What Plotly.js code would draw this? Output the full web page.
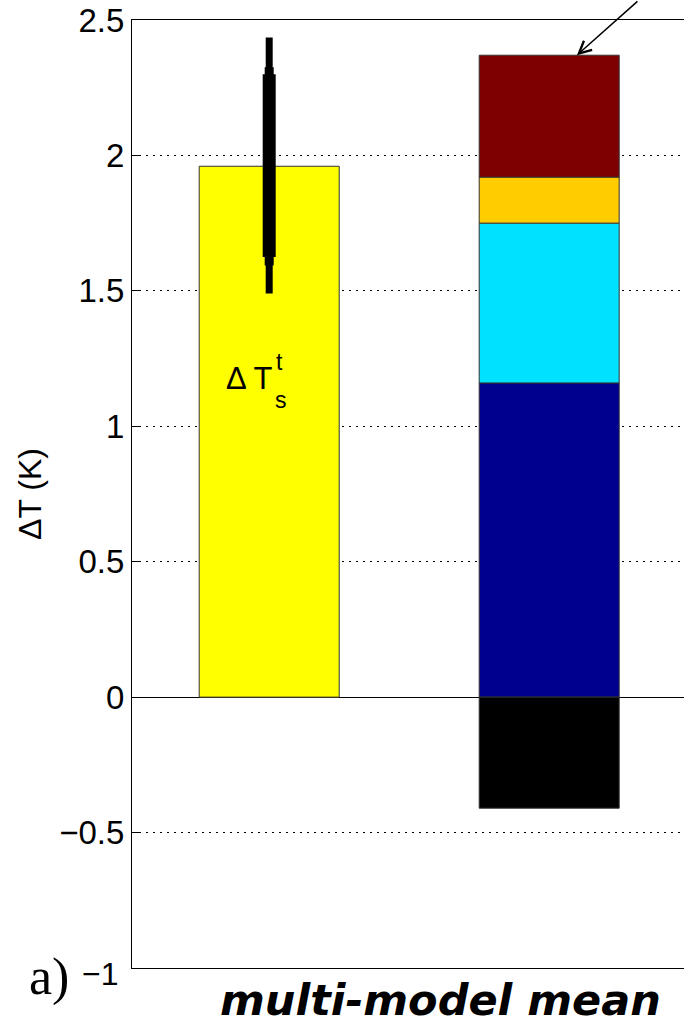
<!DOCTYPE html>
<html>
<head>
<meta charset="utf-8">
<script src="https://cdn.plot.ly/plotly-3.0.1.min.js"></script>
<style>
html,body{margin:0;padding:0;width:684px;height:1026px;overflow:hidden;background:#fff;}
#chart{width:720px;height:1026px;}
</style>
</head>
<body>
<div id="chart"></div>
<script>
// ---- data ----
var xPos = [1, 2];
var totalLabel = "Δ T";
var totalValue = [1.96];           // yellow bar at x=1
var partNames = ["navy", "cyan", "gold", "maroon", "black"];
var partValues = [1.16, 0.59, 0.17, 0.45, -0.41];   // stacked at x=2
var partColors = ["#00008F", "#00E0FF", "#FFCC00", "#7F0000", "#000000"];
var rangeThin = [1.49, 2.435];
var rangeMid = [1.594, 2.326];
var rangeThick = [1.625, 2.30];
var tickVals = [-1, -0.5, 0, 0.5, 1, 1.5, 2, 2.5];
var tickText = ["", "−0.5", "0", "0.5", "1", "1.5", "2", "2.5"];
var bottomTickLabel = "−1";

var traces = [];
traces.push({
  type: 'bar', x: [xPos[0]], y: totalValue, width: 0.5,
  marker: {color: '#FFFF00', line: {color: '#333', width: 1}},
  hoverinfo: 'skip', showlegend: false
});
for (var i = 0; i < partValues.length; i++) {
  traces.push({
    type: 'bar', x: [xPos[1]], y: [partValues[i]], width: 0.5, name: partNames[i],
    marker: {color: partColors[i], line: {color: '#333', width: 1}},
    hoverinfo: 'skip', showlegend: false
  });
}
[[rangeThin, 7], [rangeMid, 9], [rangeThick, 13]].forEach(function (r) {
  traces.push({
    type: 'scatter', mode: 'lines', x: [xPos[0], xPos[0]], y: r[0],
    line: {color: '#000', width: r[1]}, hoverinfo: 'skip', showlegend: false
  });
});

var stackTop = partValues.filter(function (v) { return v > 0; }).reduce(function (a, b) { return a + b; }, 0);

var layout = {
  width: 720, height: 1026,
  margin: {l: 132, r: 0, t: 20, b: 58},
  paper_bgcolor: '#fff', plot_bgcolor: '#fff',
  barmode: 'relative', bargap: 0,
  font: {family: 'Liberation Sans, Arial, sans-serif', color: '#000'},
  xaxis: {
    range: [0.51, 2.61], showticklabels: false, ticks: '', showgrid: false, zeroline: false,
    showline: true, mirror: true, linecolor: '#000', linewidth: 1, fixedrange: true
  },
  yaxis: {
    range: [-1, 2.5], tickmode: 'array', tickvals: tickVals, ticktext: tickText,
    ticks: 'inside', ticklen: 8, tickcolor: '#000', tickwidth: 1,
    tickfont: {size: 33, family: 'Liberation Sans, Arial, sans-serif'},
    showline: true, mirror: true, linecolor: '#000', linewidth: 1,
    showgrid: true, gridcolor: '#000', gridwidth: 1, griddash: '2px,5px',
    zeroline: true, zerolinecolor: '#000', zerolinewidth: 1,
    title: {text: 'ΔT (K)', font: {size: 32}, standoff: 8},
    fixedrange: true
  },
  annotations: [
    {xref: 'paper', yref: 'paper', x: -0.054, y: -0.0063, text: bottomTickLabel, showarrow: false,
     font: {size: 32}, xanchor: 'center', yanchor: 'middle'},
    {xref: 'x', yref: 'y', x: 0.931, y: 1.177, text: totalLabel, showarrow: false,
     font: {size: 31}, xanchor: 'center', yanchor: 'middle'},
    {xref: 'x', yref: 'y', x: 1.038, y: 1.236, text: 't', showarrow: false,
     font: {size: 23}, xanchor: 'center', yanchor: 'middle'},
    {xref: 'x', yref: 'y', x: 1.042, y: 1.096, text: 's', showarrow: false,
     font: {size: 23}, xanchor: 'center', yanchor: 'middle'},
    {xref: 'x', yref: 'y', x: 2.099, y: stackTop, text: ' ', showarrow: true,
     ax: 62, ay: -64, arrowhead: 5, arrowsize: 1.6, arrowwidth: 1.5, arrowcolor: '#000',
     standoff: 0, font: {size: 1}},
    {xref: 'paper', yref: 'paper', x: -0.141, y: -0.0095, text: 'a)', showarrow: false,
     font: {size: 52, family: 'Liberation Serif, Times New Roman, serif'}, xanchor: 'center', yanchor: 'middle'},
    {xref: 'paper', yref: 'paper', x: 0.524, y: -0.034, text: '<b><i>multi-model mean</i></b>', showarrow: false,
     font: {size: 43, family: 'DejaVu Sans, Liberation Sans, sans-serif'}, xanchor: 'center', yanchor: 'middle'}
  ]
};

Plotly.newPlot('chart', traces, layout, {staticPlot: true, displayModeBar: false});
</script>
</body>
</html>
